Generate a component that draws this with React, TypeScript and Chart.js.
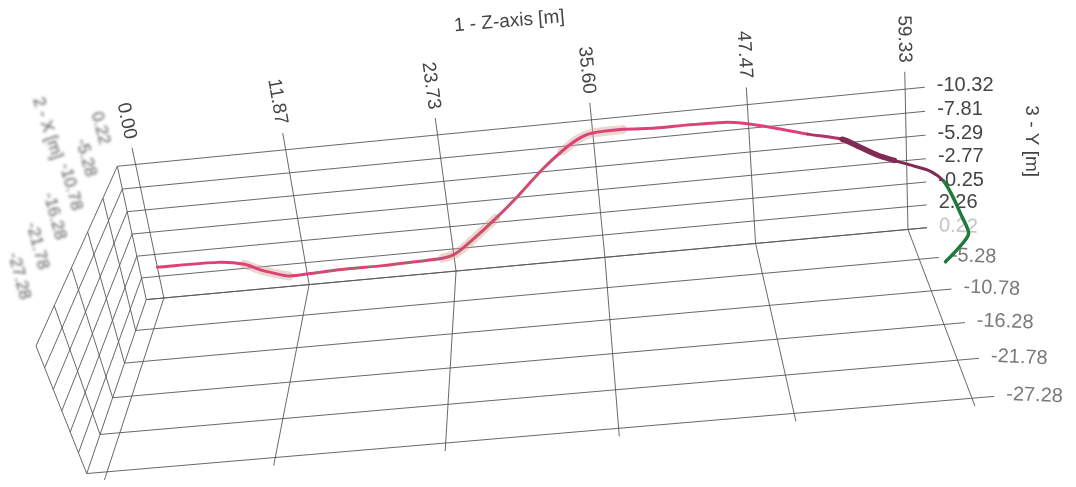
import React, { useEffect, useRef } from "react";
import { Chart, registerables } from "chart.js";

Chart.register(...registerables);

// ---------------- data ----------------
const zTicks = [0, 11.87, 23.73, 35.6, 47.47, 59.33];
const zTickLabels = ["0.00", "11.87", "23.73", "35.60", "47.47", "59.33"];
const yTicks = [-10.32, -7.81, -5.29, -2.77, -0.25, 2.26];
const yTickLabels = ["-10.32", "-7.81", "-5.29", "-2.77", "-0.25", "2.26"];
const xTicks = [0.22, -5.28, -10.78, -16.28, -21.78, -27.28];
const xTickLabels = ["0.22", "-5.28", "-10.78", "-16.28", "-21.78", "-27.28"];

const zTitle = "1 - Z-axis [m]";
const yTitle = "3 - Y [m]";
const xTitle = "2 - X [m]";

// trajectory (Z along, Y vertical), lying in the back plane
const pathZ = [0, 4.9, 7.0, 8.2, 9.2, 10.4, 12.6, 15.2, 18.0, 20.6, 22.8, 23.9, 25.3, 27.4, 29.4, 31.4, 33.1, 34.4, 35.5, 37.9, 40.4, 42.9, 45.6, 47.1, 49.4, 51.9, 54.5, 55.8, 57.2, 58.4, 59.5, 61.1, 62.1, 62.7, 63.4, 64.0, 63.0, 62.2];
const pathY = [1.2, 1.3, 1.8, 2.6, 3.1, 3.6, 3.5, 3.4, 3.4, 3.3, 3.2, 2.8, 1.5, -0.7, -3.0, -5.5, -7.3, -8.4, -8.9, -9.0, -8.8, -8.8, -8.7, -8.4, -7.6, -6.6, -5.7, -4.7, -3.6, -2.9, -2.3, -1.4, -0.2, 1.3, 3.6, 5.9, 7.7, 8.8];

// ---------------- layout / view ----------------
const BOX = { zMin: -1.45, zMax: 60.8, yTop: -10.32, yFloor: 4.78, xBack: 0.22, xFront: -27.28 };
const TICK = { zUp: 1.8, zFront: 1.1 };
const PATH_PLANE_X = 0.22;
const HALO_RANGES = [[2, 5], [10, 13], [16, 19]];
const DASH_RANGE = [6, 16];
// front-top corner of the left side wall (view units)
const LEFT_WALL_FRONT_TOP = { x: 36, y: 346 };

// camera calibration anchors: world (Z, Y, X) -> view units
const CALIB: number[][] = [
  [0, -10.32, 0.22, 134, 164],
  [11.87, -10.32, 0.22, 285, 150],
  [23.73, -10.32, 0.22, 437, 135],
  [35.6, -10.32, 0.22, 593, 120],
  [47.47, -10.32, 0.22, 749, 105],
  [59.33, -10.32, 0.22, 905, 90],
  [0, -0.25, 0.22, 156, 252],
  [59.33, -0.25, 0.22, 905, 183],
  [0, 4.78, 0.22, 165, 298],
  [11.87, 4.78, 0.22, 310, 285],
  [23.73, 4.78, 0.22, 457, 271],
  [35.6, 4.78, 0.22, 605, 257],
  [47.47, 4.78, 0.22, 758, 243],
  [59.33, 4.78, 0.22, 905, 226],
  [0, 4.78, -27.28, 108, 471],
  [11.87, 4.78, -27.28, 274, 457],
  [23.73, 4.78, -27.28, 445, 443],
  [35.6, 4.78, -27.28, 617, 427],
  [47.47, 4.78, -27.28, 795, 413],
  [59.33, 4.78, -27.28, 975, 396],
  [23.73, 4.78, -5.28, 453, 303],
  [23.73, 4.78, -10.78, 452, 335],
  [23.73, 4.78, -16.28, 449, 370],
  [23.73, 4.78, -21.78, 447, 405],
  [47.47, 4.78, -5.28, 762, 276],
  [47.47, 4.78, -10.78, 769, 307],
  [47.47, 4.78, -16.28, 777, 340],
  [47.47, 4.78, -21.78, 787, 376],
];

const nW = (z: number, y: number, x: number) => [(z - 30) / 30, (y + 3) / 8, (x + 13) / 14];

function solve(A: number[][], b: number[]): number[] {
  const n = b.length;
  const M = A.map((r, i) => [...r, b[i]]);
  for (let c = 0; c < n; c++) {
    let piv = c;
    for (let r = c + 1; r < n; r++) if (Math.abs(M[r][c]) > Math.abs(M[piv][c])) piv = r;
    const t = M[c]; M[c] = M[piv]; M[piv] = t;
    for (let r = 0; r < n; r++) {
      if (r === c) continue;
      const f = M[r][c] / M[c][c];
      for (let k = c; k <= n; k++) M[r][k] -= f * M[c][k];
    }
  }
  return M.map((r, i) => r[n] / r[i]);
}

function calibrate(): number[] {
  const n = 11;
  const A = Array.from({ length: n }, () => new Array(n).fill(0));
  const B = new Array(n).fill(0);
  const add = (row: number[], rhs: number) => {
    for (let i = 0; i < n; i++) {
      B[i] += row[i] * rhs;
      for (let j = 0; j < n; j++) A[i][j] += row[i] * row[j];
    }
  };
  for (const [z, y, x, u0, v0] of CALIB) {
    const [a, b, c] = nW(z, y, x);
    const u = (u0 - 540) / 400;
    const v = (v0 - 280) / 200;
    add([a, b, c, 1, 0, 0, 0, 0, -u * a, -u * b, -u * c], u);
    add([0, 0, 0, 0, a, b, c, 1, -v * a, -v * b, -v * c], v);
  }
  return solve(A, B);
}

const CAM = calibrate();

type Pt = { x: number; y: number };

function project(z: number, y: number, x: number): Pt {
  const [a, b, c] = nW(z, y, x);
  const m = CAM;
  const d = m[8] * a + m[9] * b + m[10] * c + 1;
  const u = (m[0] * a + m[1] * b + m[2] * c + m[3]) / d;
  const v = (m[4] * a + m[5] * b + m[6] * c + m[7]) / d;
  return { x: u * 400 + 540, y: v * 200 + 280 };
}

const lerp = (p: Pt, q: Pt, f: number): Pt => ({ x: p.x + (q.x - p.x) * f, y: p.y + (q.y - p.y) * f });
const dist = (p: Pt, q: Pt) => Math.hypot(p.x - q.x, p.y - q.y);

// left side wall: interpolated face sharing its back and bottom edges with the camera model
function leftWall() {
  const { zMin, yTop, yFloor, xBack, xFront } = BOX;
  const bt = project(zMin, yTop, xBack);
  const bb = project(zMin, yFloor, xBack);
  const fb = project(zMin, yFloor, xFront);
  const ft = LEFT_WALL_FRONT_TOP;
  const xLines = xTicks.map((X) => {
    const bottom = project(zMin, yFloor, X);
    const f = dist(bottom, bb) / dist(fb, bb);
    return { f, bottom, top: lerp(bt, ft, f) };
  });
  const yLines = [...yTicks, yFloor].map((Y) => {
    const back = project(zMin, Y, xBack);
    const g = dist(back, bt) / dist(bb, bt);
    return { back, front: lerp(ft, fb, g) };
  });
  return { bt, xLines, yLines };
}

const GRID_COLOR = "rgba(88,88,88,0.9)";

function segPts(a: Pt, b: Pt) {
  return { data: [a, b], borderColor: GRID_COLOR, borderWidth: 1, pointRadius: 0, tension: 0, order: 10 };
}
function seg(p: number[], q: number[]) {
  return segPts(project(p[0], p[1], p[2]), project(q[0], q[1], q[2]));
}

function buildDatasets() {
  const ds: any[] = [];
  const { zMin, zMax, yTop, yFloor, xBack, xFront } = BOX;
  // back wall: horizontal (constant Y) lines
  [...yTicks, yFloor].forEach((Y) => ds.push(seg([zMin, Y, xBack], [zMax, Y, xBack])));
  // back wall: Z lines (with tick extension above)
  zTicks.forEach((Z) => ds.push(seg([Z, yFloor, xBack], [Z, yTop - TICK.zUp, xBack])));
  // floor: constant X lines
  xTicks.forEach((X) => ds.push(seg([zMin, yFloor, X], [zMax, yFloor, X])));
  // floor: Z lines (with tick extension in front)
  zTicks.forEach((Z) => ds.push(seg([Z, yFloor, xBack], [Z, yFloor, xFront - TICK.zFront])));
  // left side wall
  const lw = leftWall();
  lw.xLines.forEach((l) => ds.push(segPts(l.bottom, l.top)));
  lw.yLines.forEach((l) => ds.push(segPts(l.back, l.front)));

  const pts = pathZ.map((z, i) => project(z, pathY[i], PATH_PLANE_X));

  HALO_RANGES.forEach(([s, e]) =>
    ds.push({
      data: pts.slice(s, e + 1),
      borderColor: "rgba(208,166,144,0.45)",
      borderWidth: 9,
      pointRadius: 0,
      tension: 0.3,
      borderCapStyle: "round",
      order: 5,
    })
  );

  const segColor = (i: number) =>
    i >= 32 ? "#1f7a3c" : i >= 26 ? "#7f2b53" : i >= 25 ? "#b0336a" : "#e0407a";
  const segWidth = (i: number) => (i >= 26 && i <= 28 ? 5.5 : i >= 32 ? 3.5 : 3);

  ds.push({
    data: pts,
    borderColor: "#e0407a",
    borderWidth: 3,
    pointRadius: 0,
    tension: 0.25,
    borderCapStyle: "round",
    borderJoinStyle: "round",
    segment: {
      borderColor: (ctx: any) => segColor(ctx.p0DataIndex),
      borderWidth: (ctx: any) => segWidth(ctx.p0DataIndex),
    },
    order: 2,
  });

  ds.push({
    data: pts.slice(DASH_RANGE[0], DASH_RANGE[1] + 1),
    borderColor: "rgba(100,150,60,0.7)",
    borderWidth: 1.5,
    borderDash: [5, 8],
    pointRadius: 0,
    tension: 0.25,
    order: 1,
  });
  return ds;
}

const FONT = '"Liberation Sans", Arial, sans-serif';

const labelPlugin = {
  id: "labels3d",
  beforeDatasetsDraw(chart: any) {
    const { ctx } = chart;
    const sx = chart.scales.x;
    const sy = chart.scales.y;
    const px = (p: Pt) => ({ x: sx.getPixelForValue(p.x), y: sy.getPixelForValue(p.y) });
    const P = (z: number, y: number, x: number) => px(project(z, y, x));
    const { zMin, zMax, yTop, yFloor, xBack } = BOX;

    ctx.save();
    // Z tick labels (rotated along the grid line)
    ctx.fillStyle = "#444";
    ctx.font = `19px ${FONT}`;
    zTicks.forEach((Z, i) => {
      const top = P(Z, yTop - TICK.zUp, xBack);
      const bot = P(Z, yFloor, xBack);
      let dx = bot.x - top.x, dy = bot.y - top.y;
      const L = Math.hypot(dx, dy);
      dx /= L; dy /= L;
      ctx.save();
      ctx.translate(top.x - dx * 9, top.y - dy * 9);
      ctx.rotate(Math.atan2(dy, dx));
      ctx.textAlign = "right";
      ctx.textBaseline = "middle";
      ctx.fillText(zTickLabels[i], 0, 0);
      ctx.restore();
    });

    // Z title
    const t0 = P(zMin, yTop, xBack), t1 = P(zMax, yTop, xBack);
    const tm = P((zTicks[0] + zTicks[zTicks.length - 1]) / 2, yTop, xBack);
    ctx.save();
    ctx.translate(tm.x - 5, tm.y - 106);
    ctx.rotate(Math.atan2(t1.y - t0.y, t1.x - t0.x) * 0.85);
    ctx.font = `19px ${FONT}`;
    ctx.textAlign = "center";
    ctx.textBaseline = "middle";
    ctx.fillText(zTitle, 0, 0);
    ctx.restore();

    // Y tick labels
    ctx.font = `20px ${FONT}`;
    ctx.textAlign = "left";
    ctx.textBaseline = "middle";
    yTicks.forEach((Y, i) => {
      const p = P(zMax, Y, xBack);
      ctx.fillText(yTickLabels[i], p.x + 12, p.y - 2);
    });

    // Y title
    const ym = P(zMax, -4, xBack);
    ctx.save();
    ctx.translate(ym.x + 105, ym.y - 6);
    ctx.rotate(Math.PI / 2);
    ctx.font = `19px ${FONT}`;
    ctx.textAlign = "center";
    ctx.fillText(yTitle, 0, 0);
    ctx.restore();

    // floor X tick labels (right side)
    ctx.font = `20px ${FONT}`;
    xTicks.forEach((X, i) => {
      const p = P(zMax, yFloor, X);
      ctx.save();
      ctx.translate(p.x + 12, p.y - 2);
      ctx.rotate(0.04);
      ctx.fillStyle = i === 0 ? "#c4c4c4" : "#7a7a7a";
      ctx.textAlign = "left";
      ctx.textBaseline = "middle";
      ctx.fillText(xTickLabels[i], 0, 0);
      ctx.restore();
    });

    // blurred X labels along the top edge of the left wall
    const lw = leftWall();
    ctx.filter = "blur(1.8px)";
    ctx.fillStyle = "#555";
    ctx.font = `17px ${FONT}`;
    lw.xLines.forEach((l, i) => {
      const p = px(l.top);
      ctx.save();
      ctx.translate(p.x - 17, p.y - 38 - 32 * Math.pow(l.f, 1.5));
      ctx.rotate((75 * Math.PI) / 180);
      ctx.textAlign = "center";
      ctx.textBaseline = "middle";
      ctx.fillText(xTickLabels[i], 0, 0);
      ctx.restore();
    });
    const xa = px(lw.bt);
    ctx.save();
    ctx.translate(xa.x - 70, xa.y - 38);
    ctx.rotate((72 * Math.PI) / 180);
    ctx.textAlign = "center";
    ctx.textBaseline = "middle";
    ctx.fillText(xTitle, 0, 0);
    ctx.restore();
    ctx.filter = "none";
    ctx.restore();
  },
};

export default function App() {
  const ref = useRef<HTMLCanvasElement | null>(null);
  useEffect(() => {
    if (!ref.current) return;
    const chart = new Chart(ref.current, {
      type: "line",
      data: { datasets: buildDatasets() },
      options: {
        animation: false,
        responsive: true,
        maintainAspectRatio: false,
        events: [],
        layout: { padding: 0 },
        plugins: { legend: { display: false }, tooltip: { enabled: false } },
        scales: {
          x: { type: "linear", min: 0, max: 1076, display: false },
          y: { type: "linear", min: 0, max: 487, reverse: true, display: false },
        },
      },
      plugins: [labelPlugin],
    } as any);
    return () => chart.destroy();
  }, []);
  return (
    <div style={{ position: "absolute", left: 0, top: 0, width: 1076, height: 487, background: "#fff" }}>
      <canvas ref={ref} />
    </div>
  );
}
